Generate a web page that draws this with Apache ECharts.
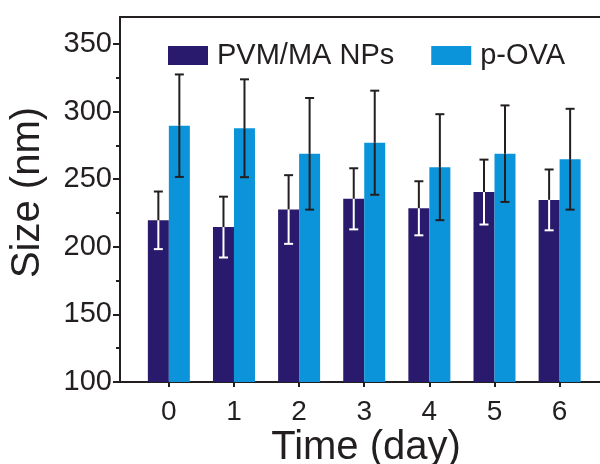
<!DOCTYPE html>
<html>
<head>
<meta charset="utf-8">
<script src="https://cdn.jsdelivr.net/npm/echarts@6/dist/echarts.min.js"></script>
<style>
html,body{margin:0;padding:0;background:#fff;}
#c{width:600px;height:464px;}
</style>
</head>
<body>
<div id="c"></div>
<script>
const days = [0, 1, 2, 3, 4, 5, 6];
const dayLabels = ['0', '1', '2', '3', '4', '5', '6'];
const pvmMean = [219.6, 214.6, 227.6, 235.5, 228.5, 240.5, 234.7];
const pvmErr = [21.3, 22.5, 25.4, 22.6, 20.0, 24.0, 22.5];
const ovaMean = [289.6, 287.7, 268.8, 277.0, 258.9, 268.9, 264.8];
const ovaErr = [37.9, 36.2, 41.3, 38.5, 39.2, 35.7, 37.3];
const yMajorTicks = [100, 150, 200, 250, 300, 350];
const yMinorTicks = [125, 175, 225, 275, 325];
const seriesNames = ['PVM/MA NPs', 'p-OVA'];

const FONT = '"Liberation Sans", Arial, sans-serif';
const INK = '#231f20';
const DARK = '#2a1a6e';
const LIGHT = '#0b94d9';
const BAR_W = 21;

const chart = echarts.init(document.getElementById('c'), null, {renderer: 'canvas'});

function errRenderer(offsetSign, innerColor) {
  return function (params, api) {
    const x = api.value(0), m = api.value(1), e = api.value(2);
    const top = api.coord([x, m + e]);
    const mid = api.coord([x, m]);
    const bot = api.coord([x, m - e]);
    const cx = top[0] + offsetSign * BAR_W / 2;
    const cap = 4.5;
    const st = (c) => ({stroke: c, lineWidth: 2});
    return {
      type: 'group',
      children: [
        {type: 'line', shape: {x1: cx, y1: top[1], x2: cx, y2: mid[1]}, style: st(INK)},
        {type: 'line', shape: {x1: cx - cap, y1: top[1], x2: cx + cap, y2: top[1]}, style: st(INK)},
        {type: 'line', shape: {x1: cx, y1: mid[1], x2: cx, y2: bot[1]}, style: st(innerColor)},
        {type: 'line', shape: {x1: cx - cap, y1: bot[1], x2: cx + cap, y2: bot[1]}, style: st(innerColor)}
      ]
    };
  };
}

const option = {
  animation: false,
  backgroundColor: '#fff',
  textStyle: {fontFamily: FONT, color: INK},
  legend: {
    data: seriesNames,
    left: 163,
    top: 36,
    itemWidth: 40,
    itemHeight: 19,
    itemGap: 37,
    icon: 'rect',
    textStyle: {fontFamily: FONT, fontSize: 29, color: INK, padding: [0, 0, 0, 4]}
  },
  grid: {left: 120, right: 0, top: 17, bottom: 82, containLabel: false, outerBoundsMode: 'none'},
  xAxis: [{
    type: 'value',
    min: -0.75,
    max: 6.62,
    name: 'Time (day)',
    nameLocation: 'middle',
    nameGap: 46,
    nameMoveOverlap: false,
    nameTextStyle: {fontFamily: FONT, fontSize: 40, color: INK, padding: [0, 0, 0, 12]},
    axisLine: {show: true, onZero: false, lineStyle: {color: INK, width: 2}},
    axisTick: {show: true, length: 5, lineStyle: {color: INK, width: 2}, customValues: days},
    axisLabel: {fontFamily: FONT, fontSize: 28, color: INK, margin: 16, customValues: days,
      formatter: (v) => dayLabels[days.indexOf(v)] ?? ''},
    splitLine: {show: false}
  }, {
    type: 'value',
    position: 'top',
    min: -0.75,
    max: 6.62,
    axisLine: {show: true, onZero: false, lineStyle: {color: INK, width: 2}},
    axisTick: {show: false},
    axisLabel: {show: false},
    splitLine: {show: false}
  }],
  yAxis: [{
    type: 'value',
    min: 100,
    max: 370,
    interval: 50,
    name: 'Size (nm)',
    nameLocation: 'middle',
    nameRotate: 90,
    nameGap: 72,
    nameTextStyle: {fontFamily: FONT, fontSize: 40, color: INK, padding: [0, 0, 0, 14]},
    axisLine: {show: true, onZero: false, lineStyle: {color: INK, width: 2}},
    axisTick: {show: true, length: 7, lineStyle: {color: INK, width: 2}, customValues: yMajorTicks},
    axisLabel: {fontFamily: FONT, fontSize: 29, color: INK, margin: 8, customValues: yMajorTicks},
    splitLine: {show: false}
  }, {
    type: 'value',
    position: 'left',
    min: 100,
    max: 370,
    interval: 50,
    axisLine: {show: false, onZero: false},
    axisTick: {show: true, length: 4, lineStyle: {color: INK, width: 2}, customValues: yMinorTicks},
    axisLabel: {show: false},
    splitLine: {show: false}
  }],
  series: [
    {
      name: seriesNames[0], type: 'bar', barWidth: BAR_W, barGap: '0%',
      itemStyle: {color: DARK},
      data: days.map((d, i) => [d, pvmMean[i]])
    },
    {
      name: seriesNames[1], type: 'bar', barWidth: BAR_W, barGap: '0%',
      itemStyle: {color: LIGHT},
      data: days.map((d, i) => [d, ovaMean[i]])
    },
    {
      type: 'custom', z: 5, renderItem: errRenderer(-1, '#ffffff'),
      data: days.map((d, i) => [d, pvmMean[i], pvmErr[i]])
    },
    {
      type: 'custom', z: 5, renderItem: errRenderer(1, INK),
      data: days.map((d, i) => [d, ovaMean[i], ovaErr[i]])
    }
  ]
};
chart.setOption(option);
</script>
</body>
</html>
